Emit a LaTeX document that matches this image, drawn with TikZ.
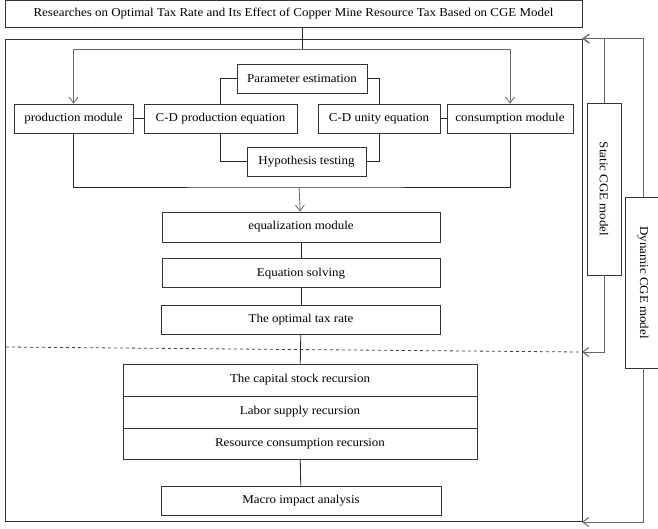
\documentclass[tikz,border=0pt]{standalone}
\usepackage{fontspec}
\setmainfont{Liberation Serif}[FakeStretch=1.08]
\usepackage{tikz}
\usetikzlibrary{arrows.meta,positioning}
\usepackage{xcolor}

\begin{document}
\begin{tikzpicture}[
    x=1pt,y=-1pt,
    box/.style={draw=black!80,line width=0.8pt,inner sep=0pt,align=center,minimum height=29pt,font=\fontsize{12}{14}\selectfont},
    vbox/.style={box,rotate=-90},
    link/.style={draw=black!85,line width=0.8pt},
    arr/.style={link,draw=black!60,-{Straight Barb[length=6pt,width=9pt]}},
    back/.style={draw=black!60,line width=1pt,-{Straight Barb[length=6pt,width=9pt]}}
]
\useasboundingbox (0,0) rectangle (658,528);
\node[box,minimum width=577pt,minimum height=27pt] (title) at (293.5,13.5) {Researches on Optimal Tax Rate and Its Effect of Copper Mine Resource Tax Based on CGE Model};
\node[box,minimum width=577pt,minimum height=482pt] (frame) at (293.5,280) {};
\node[box,minimum width=119pt] (prod) at (73.5,118.5) {production module};
\node[box,minimum width=153pt] (cdprod) at (220.5,118.5) {C-D production equation};
\node[box,minimum width=122pt] (cdunity) at (379,118.5) {C-D unity equation};
\node[box,minimum width=126pt] (cons) at (510,118.5) {consumption module};
\node[box,minimum width=130pt] (param) at (302,78.5) {Parameter estimation};
\node[box,minimum width=119pt] (hyp) at (306.5,161.5) {Hypothesis testing};
\node[box,minimum width=278pt,minimum height=30pt] (equal) at (301,227) {equalization module};
\node[box,minimum width=278pt,below=16pt of equal] (solve) {Equation solving};
\node[box,minimum width=279pt,below=17pt of solve] (opt) {The optimal tax rate};
\node[box,minimum width=354pt,minimum height=32pt] (cap) at (300,380) {The capital stock recursion};
\node[box,minimum width=354pt,minimum height=32pt,below=-0.8pt of cap] (labor) {Labor supply recursion};
\node[box,minimum width=354pt,minimum height=31pt,below=-0.8pt of labor] (res) {Resource consumption recursion};
\node[box,minimum width=280pt] (macro) at (301,500.5) {Macro impact analysis};
\node[vbox,minimum width=172pt,minimum height=34pt] (static) at (604,189) {Static CGE model};
\node[vbox,minimum width=171pt,minimum height=36pt] (dynamic) at (643,282.5) {Dynamic CGE model};
\coordinate (split) at (302,49);
\coordinate (merge) at (299,187);
\coordinate (dashL) at (6,347);
\coordinate (sret) at (582,352);
\coordinate (dret) at (582,522);
\draw[link] (title.south -| split)--(split);
\draw[arr] (split)-|(prod);
\draw[arr] (split)-|(cons);
\draw[link] (prod)--(cdprod);
\draw[link] (cdunity)--(cons);
\draw[link] (param)-|(cdprod);
\draw[link] (param)-|(cdunity);
\draw[link] (cdprod)|-(hyp);
\draw[link] (cdunity)|-(hyp);
\draw[link] (prod)|-(merge)-|(cons);
\draw[arr] (merge)--(equal);
\draw[link] (equal)--(solve);
\draw[link] (solve)--(opt);
\draw[link] (opt)--(cap);
\draw[link] (res)--(macro);
\draw[link,dashed,draw=black!75] (dashL)--(sret);
\draw[back] (static.west)|-(frame.north east);
\draw[back] (static.east)|-(sret);
\draw[back] (dynamic.west)|-(frame.north east);
\draw[back] (dynamic.east)|-(dret);
\end{tikzpicture}
\end{document}
